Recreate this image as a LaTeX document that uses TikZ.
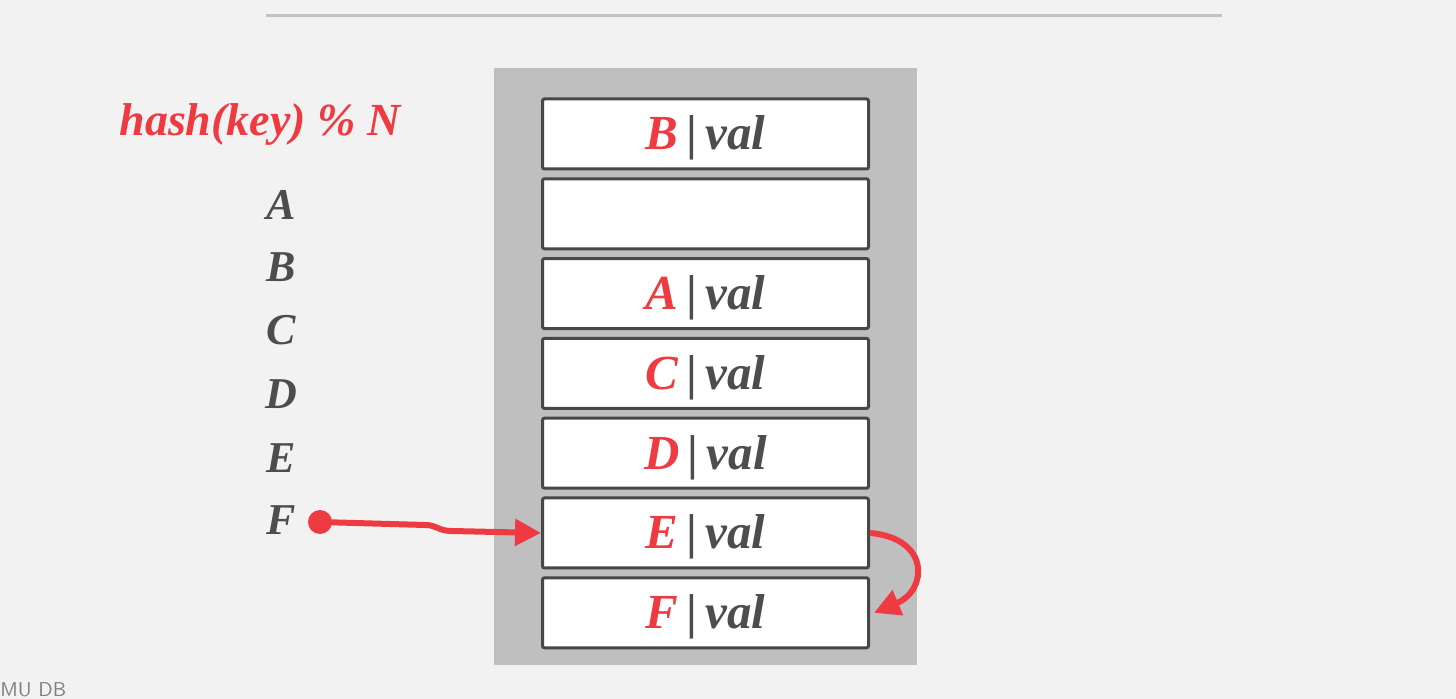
\documentclass[tikz,border=0pt]{standalone}
\usepackage{fontspec}
\setmainfont{Liberation Serif}
\usepackage{xcolor}
\usetikzlibrary{arrows.meta, positioning}
\definecolor{hashred}{HTML}{EE3B42}
\definecolor{keygray}{HTML}{4D4D4D}
\definecolor{slotline}{HTML}{474747}
\definecolor{tablebg}{HTML}{BFBFBF}
\definecolor{pagebg}{HTML}{F2F2F2}
\definecolor{ruleline}{HTML}{C2C2C2}
\tikzset{
  slot/.style={rectangle, draw=slotline, fill=white, line width=1.5pt, rounded corners=1pt,
               minimum width=163pt, minimum height=35pt, inner sep=0pt,
               text height=16pt, text depth=0pt,
               font=\fontsize{24.5}{28}\selectfont\bfseries\itshape, text=keygray},
  keylabel/.style={font=\fontsize{22}{26}\selectfont\bfseries\itshape, text=keygray},
  hashlabel/.style={font=\fontsize{23}{27}\selectfont\bfseries\itshape, text=hashred},
  keydot/.style={circle, fill=hashred, minimum size=12pt, inner sep=0pt},
  probearrow/.style={-{Triangle[length=13pt, width=13pt]}, line width=3pt, draw=hashred},
  footer/.style={font=\sffamily\fontsize{10}{12}\selectfont, text=gray},
}
\newcommand{\entry}[1]{\textcolor{hashred}{#1}\,\textup{|}\,val}

\begin{document}
\begin{tikzpicture}[x=0.5pt, y=-0.5pt]
  \useasboundingbox (0,0) rectangle (1456,699);
  \fill[pagebg] (0,0) rectangle (1456,699);
  \draw[ruleline, line width=1.5pt] (266,16) -- (1222,16);
  \fill[tablebg] (494,68) rectangle (917,665);

  % hash function and keys
  \node (hashfn) [hashlabel] at (260,125) {hash(key) \% N};
  \node (keyA) [keylabel] at (281,205) {A};
  \node (keyB) [keylabel] at (281,267) {B};
  \node (keyC) [keylabel] at (281,330) {C};
  \node (keyD) [keylabel] at (281,394) {D};
  \node (keyE) [keylabel] at (281,458) {E};
  \node (keyF) [keylabel] at (281,520) {F};
  \node (dotF) [keydot] at (320,522) {};

  % hash table slots
  \node (slotB) [slot] at (705.5,134) {\entry{B}};
  \node (slotNone) [slot, below=3.4pt of slotB] {};
  \node (slotA) [slot, below=3.4pt of slotNone] {\entry{A}};
  \node (slotC) [slot, below=3.4pt of slotA] {\entry{C}};
  \node (slotD) [slot, below=3.4pt of slotC] {\entry{D}};
  \node (slotE) [slot, below=3.4pt of slotD] {\entry{E}};
  \node (slotF) [slot, below=3.4pt of slotE] {\entry{F}};

  \draw[probearrow] (dotF.center) -- (425,525) .. controls (437,525) and (438,531) .. (452,531) -- (slotE.west);
  \draw[probearrow] (slotE.east) .. controls (930,538) and (928,590) .. ([xshift=2pt]slotF.east);

  \node (credit) [footer, anchor=south west, inner sep=0pt] at (0,697) {MU DB};
\end{tikzpicture}
\end{document}
